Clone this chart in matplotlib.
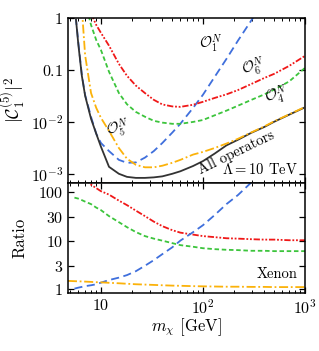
import numpy as np
import matplotlib
matplotlib.use('Agg')
import matplotlib.pyplot as plt

plt.rcParams['font.family'] = 'serif'
plt.rcParams['font.serif'] = ['cmr10', 'DejaVu Serif']
plt.rcParams['mathtext.fontset'] = 'cm'
plt.rcParams['axes.formatter.use_mathtext'] = True
plt.rcParams['font.size'] = 11

# dark matter mass grid [GeV]
mass = [5.5, 6, 6.5, 7, 8, 9, 10, 12, 15, 18, 22, 27, 33, 40, 50, 60, 80, 100,
        130, 170, 220, 300, 400, 500, 700, 1000]

# top panel: |C_1^(5)|^2 limits
all_ops = [1.9, 0.31, 0.077, 0.032, 0.0116, 6.0e-3, 3.4e-3, 1.4e-3, 1.03e-3, 9.0e-4,
           8.6e-4, 8.6e-4, 8.8e-4, 9.2e-4, 1.03e-3, 1.15e-3, 1.45e-3, 1.8e-3,
           2.5e-3, 3.6e-3, 4.6e-3, 6.3e-3, 8.1e-3, 0.0102, 0.0139, 0.0192]
op5 = [None, None, 1.5, 0.19, 0.036, 0.0187, 0.0121, 6.8e-3, 3.2e-3, 2.0e-3,
       1.53e-3, 1.37e-3, 1.37e-3, 1.47e-3, 1.67e-3, 1.9e-3, 2.4e-3, 2.7e-3,
       3.2e-3, 3.9e-3, 4.8e-3, 6.4e-3, 8.3e-3, 0.0104, 0.0141, 0.0195]
op1 = [1.8, 0.34, 0.08, 0.033, 0.0126, 6.0e-3, 4.0e-3, 2.8e-3, 1.9e-3, 1.67e-3,
       1.7e-3, 2.1e-3, 2.8e-3, 4.0e-3, 6.3e-3, 9.3e-3, 0.0187, 0.0334,
       0.073, 0.162, 0.36, 0.9, 2.2, None, None, None]
op4 = [None, None, None, 2.0, 0.72, 0.37, 0.24, 0.092, 0.036, 0.022,
       0.0157, 0.0127, 0.0106, 0.0098, 0.0093, 0.0093, 0.0101, 0.011,
       0.0135, 0.0166, 0.0206, 0.0268, 0.034, 0.042, 0.06, 0.109]
op6 = [None, None, None, None, 1.2, 0.72, 0.51, 0.29, 0.13, 0.077,
       0.05, 0.036, 0.0267, 0.0218, 0.02, 0.0196, 0.0215, 0.0245,
       0.029, 0.034, 0.041, 0.054, 0.07, 0.084, 0.119, 0.185]

# bottom panel: ratios
ratio_op6 = [None, None, None, 190, 140, 119, 103, 87.7, 66, 53.4, 41.2, 31.8, 24.5,
             19.8, 16.4, 14.6, 13.3, 12.4, 11.8, 11.2, 11.0, 10.7, 10.5, 10.5, 10.2, 10.2]
ratio_op4 = [76, 72.6, 67.6, 63, 56, 47.5, 42.2, 31.8, 23.9, 18.9, 15, 12.4, 11,
             10, 8.9, 8.1, 7.5, 7.0, 6.7, 6.5, 6.4, 6.2, 6.2, 6.1, 6.1, 6.1]
ratio_op1 = [1.04, 1.09, 1.13, 1.17, 1.22, 1.28, 1.38, 1.56, 1.75, 1.97, 2.37, 3.06,
             3.99, 5.3, 7.3, 10, 14.9, 20.7, 33.3, 56, 85.6, 158, None, None, None, None]
xenon_mass = [4.75] + mass
ratio_xenon = [1.5, 1.48, 1.47, 1.46, 1.45, 1.43, 1.41, 1.40, 1.37, 1.34, 1.31, 1.28,
               1.26, 1.24, 1.22, 1.2, 1.19, 1.17, 1.16, 1.15, 1.14, 1.14, 1.13, 1.13,
               1.12, 1.12, 1.12]

black = '#333333'
blue = '#3f6fdc'
orange = '#fbb20a'
green = '#3cc43c'
red = '#f01818'


def arr(vals):
    return np.array([np.nan if v is None else v for v in vals], dtype=float)


fig = plt.figure(figsize=(3.19, 3.51), dpi=100)
ax = fig.add_axes([0.213, 0.478, 0.743, 0.472])
axr = fig.add_axes([0.213, 0.164, 0.743, 0.314], sharex=ax)

lw = 1.3
ax.plot(mass, arr(all_ops), color=black, lw=lw, zorder=3)
ax.plot(mass, arr(op5), color=orange, lw=lw, dashes=(5, 1.5, 1, 1.5), zorder=4)
ax.plot(mass, arr(op1), color=blue, lw=lw, dashes=(4.5, 2.5))
ax.plot(mass, arr(op4), color=green, lw=lw, dashes=(2.5, 1.5))
ax.plot(mass, arr(op6), color=red, lw=lw, dashes=(3.5, 1, 1, 1, 1, 1))

axr.plot(mass, arr(ratio_op6), color=red, lw=lw, dashes=(3.5, 1, 1, 1, 1, 1))
axr.plot(mass, arr(ratio_op4), color=green, lw=lw, dashes=(2.5, 1.5))
axr.plot(mass, arr(ratio_op1), color=blue, lw=lw, dashes=(4.5, 2.5))
axr.plot(xenon_mass, ratio_xenon, color=orange, lw=lw, dashes=(5, 1.5, 1, 1.5))

for a in (ax, axr):
    a.set_xscale('log')
    a.set_yscale('log')
    a.tick_params(which='both', direction='in', top=True, right=True, labelsize=11.5)
    a.tick_params(which='major', length=4.5, width=0.9)
    a.tick_params(which='minor', length=2.5, width=0.7)
    for s in a.spines.values():
        s.set_linewidth(1.1)

ax.set_xlim(4.75, 1000)
ax.set_ylim(6.8e-4, 1)
ax.set_yticks([1e-3, 1e-2, 0.1, 1])
ax.set_yticklabels([r'$10^{-3}$', r'$10^{-2}$', r'$0.1$', r'$1$'])
ax.yaxis.set_minor_locator(matplotlib.ticker.NullLocator())
ax.tick_params(labelbottom=False)
ax.set_ylabel(r'$|\mathcal{C}_1^{(5)}|^2$', fontsize=13)
ax.yaxis.set_label_coords(-0.17, 0.5)

axr.set_ylim(0.83, 150)
axr.set_yticks([1, 3, 10, 30, 100])
axr.set_yticklabels([r'$1$', r'$3$', r'$10$', r'$30$', r'$100$'])
axr.yaxis.set_minor_locator(matplotlib.ticker.NullLocator())
axr.set_xticks([10, 100, 1000])
axr.set_xticklabels([r'$10$', r'$10^2$', r'$10^3$'])
axr.set_ylabel('Ratio', fontsize=12)
axr.yaxis.set_label_coords(-0.17, 0.5)
axr.set_xlabel(r'$m_\chi$ [GeV]', fontsize=12, labelpad=0)

ax.text(118, 0.33, r'$\mathcal{O}_1^N$', ha='center', va='center', fontsize=10.5)
ax.text(310, 0.114, r'$\mathcal{O}_6^N$', ha='center', va='center', fontsize=10.5, rotation=12)
ax.text(520, 0.033, r'$\mathcal{O}_4^N$', ha='center', va='center', fontsize=10.5, rotation=12)
ax.text(14.7, 7.8e-3, r'$\mathcal{O}_5^N$', ha='center', va='center', fontsize=10.5, rotation=10)
ax.text(212, 2.6e-3, 'All operators', ha='center', va='center', fontsize=10.5, rotation=26)
ax.text(850, 1.22e-3, r'$\Lambda = 10$ TeV', ha='right', va='center', fontsize=10.5)
axr.text(850, 1.5, 'Xenon', ha='right', va='bottom', fontsize=10.5)

fig.savefig('out.png', dpi=100)
